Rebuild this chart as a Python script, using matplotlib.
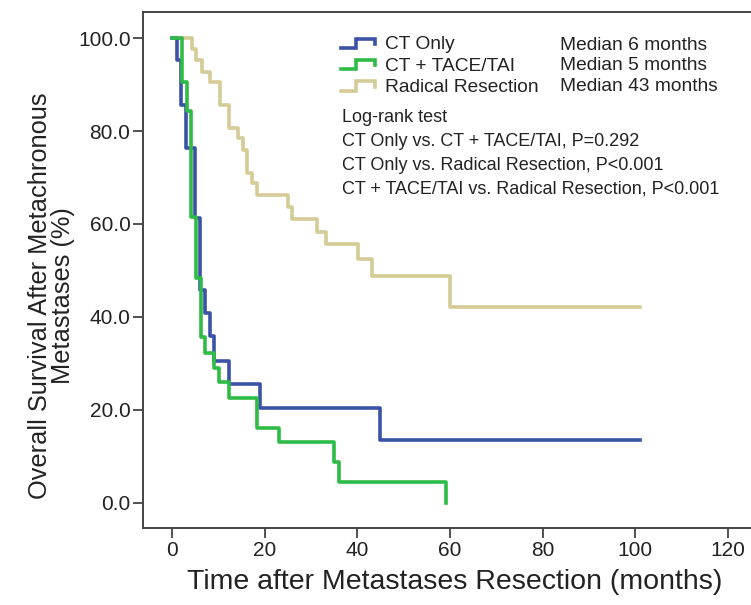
import matplotlib
matplotlib.use("Agg")
import matplotlib.pyplot as plt
from matplotlib.legend_handler import HandlerBase
from matplotlib.lines import Line2D
import numpy as np

plt.rcParams['font.family'] = ['Liberation Sans', 'DejaVu Sans']

# Kaplan-Meier step data (months, survival %)
ct_t = [0, 1.0, 2.0, 3.0, 5.0, 6.0, 7.1, 8.2, 9.1, 12.2, 19.0, 45.0, 101.0]
ct_s = [100, 95.3, 85.6, 76.3, 61.3, 45.8, 40.8, 35.8, 30.5, 25.5, 20.4, 13.5, 13.5]

tace_t = [0, 2.1, 3.2, 4.2, 5.2, 6.2, 7.1, 9.1, 10.1, 12.2, 18.3, 23.2, 35.0, 36.1, 59.1]
tace_s = [100, 90.6, 84.2, 61.6, 48.3, 35.6, 32.3, 29.0, 25.9, 22.6, 16.2, 13.0, 8.7, 4.4, 0.0]

rr_t = [0, 4.4, 5.2, 6.4, 8.2, 10.4, 12.3, 14.3, 15.3, 16.3, 17.2, 18.3,
        25.1, 26.0, 31.2, 33.2, 40.2, 43.1, 60.0, 101.0]
rr_s = [100, 97.6, 95.3, 92.8, 90.6, 85.6, 80.6, 78.4, 75.9, 70.9, 68.8, 66.2,
        63.7, 61.0, 58.3, 55.8, 52.5, 48.9, 42.2, 42.2]

labels = ['CT Only', 'CT + TACE/TAI', 'Radical Resection']
medians = ['Median 6 months', 'Median 5 months', 'Median 43 months']
logrank = ['Log-rank test',
           'CT Only vs. CT + TACE/TAI, P=0.292',
           'CT Only vs. Radical Resection, P<0.001',
           'CT + TACE/TAI vs. Radical Resection, P<0.001']
colors = ['#3a53a6', '#2ebb46', '#d5cb96']
txt = '#222222'


class StepHandler(HandlerBase):
    def create_artists(self, legend, orig, xd, yd, w, h, fs, trans):
        xs = [0, 0.45 * w, 0.45 * w, w, w]
        ys = [0.1 * h, 0.1 * h, 0.8 * h, 0.8 * h, 0.4 * h]
        ln = Line2D(np.array(xs) - xd, np.array(ys) - yd, color=orig.get_color(),
                    lw=orig.get_linewidth(), solid_joinstyle='miter')
        ln.set_transform(trans)
        return [ln]


fig = plt.figure(figsize=(7.51, 6.05), dpi=100)
ax = fig.add_axes([143 / 751, 77 / 605, 608 / 751, 516 / 605])

handles = []
for t, s, c, lab in zip([ct_t, tace_t, rr_t], [ct_s, tace_s, rr_s], colors, labels):
    h, = ax.step(t, s, where='post', color=c, lw=2.6, label=lab)
    handles.append(h)
handles[2].set_zorder(1)

ax.set_xlim(-6.26, 125.0)
ax.set_ylim(-5.4, 105.6)
ax.set_xticks(np.arange(0, 121, 20))
ax.set_yticks(np.arange(0, 101, 20))
ax.set_yticklabels([f'{v:.1f}' for v in np.arange(0, 101, 20)])
ax.tick_params(direction='out', length=7, width=1.2, color='#333333',
               labelsize=15, labelcolor=txt, pad=2)
for side in ['top', 'left', 'bottom']:
    ax.spines[side].set_color('#444444')
    ax.spines[side].set_linewidth(1.4)
ax.spines['right'].set_visible(False)

ax.set_xlabel('Time after Metastases Resection (months)', fontsize=20.5, color=txt, va='top')
ax.xaxis.set_label_coords(0.513, -0.080)
ax.set_ylabel('Overall Survival After Metachronous\nMetastases (%)', fontsize=18.3,
              color=txt, linespacing=0.95)
ax.yaxis.set_label_coords(-0.112, 0.45)

leg = ax.legend(handles=handles, labels=labels, loc='upper left',
                bbox_to_anchor=((341 - 143) / 608, (528 - 36) / 516),
                frameon=False, fontsize=13.8, handlelength=1.77, handletextpad=0.52,
                labelspacing=0.2, borderpad=0, borderaxespad=0,
                handler_map={Line2D: StepHandler()})
for tx in leg.get_texts():
    tx.set_color(txt)

for i, m in enumerate(medians):
    ax.text((560 - 143) / 608, (528 - 45 - 20.8 * i) / 516, m, transform=ax.transAxes,
            fontsize=13.8, color=txt, va='center', ha='left')

for i, l in enumerate(logrank):
    ax.text((342 - 143) / 608, (528 - 117 - 24 * i) / 516, l, transform=ax.transAxes,
            fontsize=13, color=txt, va='center', ha='left')

fig.savefig('out.png', dpi=100)
